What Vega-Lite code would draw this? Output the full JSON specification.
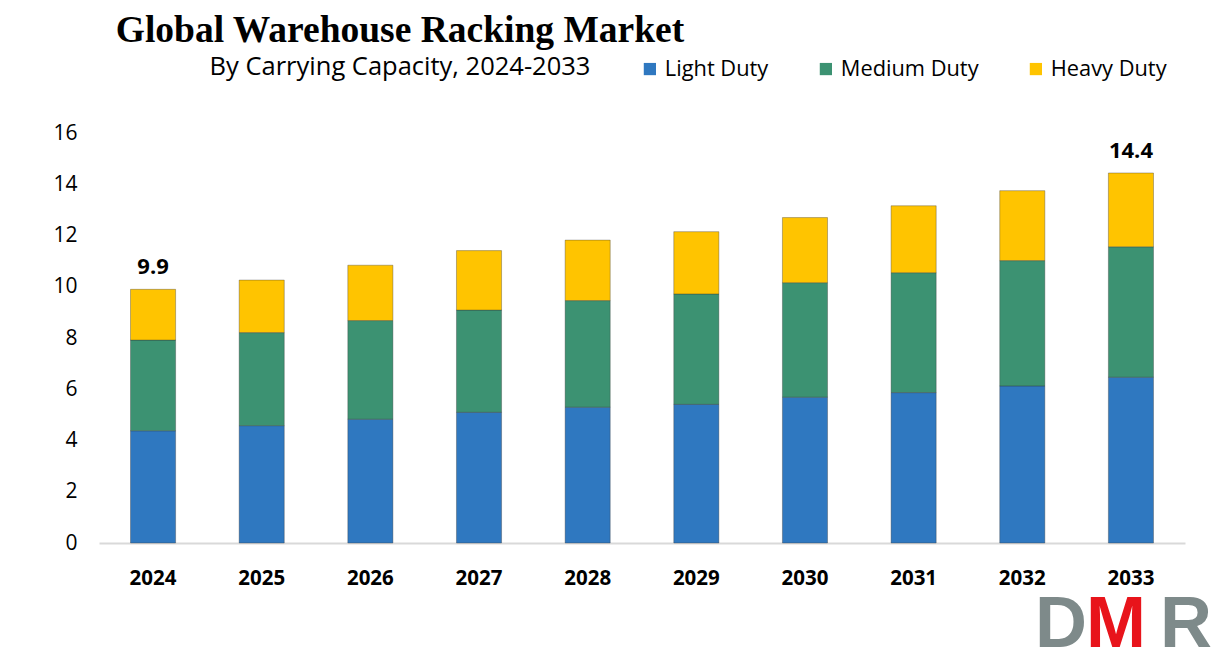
{
  "$schema": "https://vega.github.io/schema/vega-lite/v6.json",
  "autosize": {"type": "none"},
  "padding": {"left": 99, "top": 133, "right": 31, "bottom": 120},
  "width": 1086,
  "height": 410,
  "background": "white",
  "title": {
    "text": "Global Warehouse Racking Market",
    "subtitle": "By Carrying Capacity, 2024-2033",
    "anchor": "middle",
    "frame": "group",
    "dx": -242,
    "offset": -22,
    "font": "Liberation Serif",
    "fontSize": 37.5,
    "fontWeight": "bold",
    "color": "black",
    "subtitleFont": "Open Sans",
    "subtitleFontSize": 25.5,
    "subtitleColor": "black",
    "subtitlePadding": 5
  },
  "data": {
    "values": [
      {"year": "2024", "type": "Light Duty", "value": 4.38},
      {"year": "2024", "type": "Medium Duty", "value": 3.54},
      {"year": "2024", "type": "Heavy Duty", "value": 1.98},
      {"year": "2025", "type": "Light Duty", "value": 4.58},
      {"year": "2025", "type": "Medium Duty", "value": 3.63},
      {"year": "2025", "type": "Heavy Duty", "value": 2.05},
      {"year": "2026", "type": "Light Duty", "value": 4.83},
      {"year": "2026", "type": "Medium Duty", "value": 3.85},
      {"year": "2026", "type": "Heavy Duty", "value": 2.16},
      {"year": "2027", "type": "Light Duty", "value": 5.10},
      {"year": "2027", "type": "Medium Duty", "value": 3.99},
      {"year": "2027", "type": "Heavy Duty", "value": 2.32},
      {"year": "2028", "type": "Light Duty", "value": 5.30},
      {"year": "2028", "type": "Medium Duty", "value": 4.16},
      {"year": "2028", "type": "Heavy Duty", "value": 2.36},
      {"year": "2029", "type": "Light Duty", "value": 5.41},
      {"year": "2029", "type": "Medium Duty", "value": 4.31},
      {"year": "2029", "type": "Heavy Duty", "value": 2.43},
      {"year": "2030", "type": "Light Duty", "value": 5.69},
      {"year": "2030", "type": "Medium Duty", "value": 4.47},
      {"year": "2030", "type": "Heavy Duty", "value": 2.54},
      {"year": "2031", "type": "Light Duty", "value": 5.87},
      {"year": "2031", "type": "Medium Duty", "value": 4.68},
      {"year": "2031", "type": "Heavy Duty", "value": 2.61},
      {"year": "2032", "type": "Light Duty", "value": 6.13},
      {"year": "2032", "type": "Medium Duty", "value": 4.89},
      {"year": "2032", "type": "Heavy Duty", "value": 2.73},
      {"year": "2033", "type": "Light Duty", "value": 6.47},
      {"year": "2033", "type": "Medium Duty", "value": 5.09},
      {"year": "2033", "type": "Heavy Duty", "value": 2.88}
    ]
  },
  "encoding": {
    "x": {
      "field": "year",
      "type": "ordinal",
      "title": null,
      "scale": {"paddingInner": 0.585, "paddingOuter": 0.29},
      "axis": {
        "labelAngle": 0,
        "labelFont": "Open Sans",
        "labelFontSize": 20.5,
        "labelFontWeight": "bold",
        "labelColor": "black",
        "labelPadding": 25,
        "ticks": false,
        "tickSize": 0,
        "domainColor": "#D9D9D9",
        "domainWidth": 2,
        "grid": false
      }
    }
  },
  "layer": [
    {
      "transform": [
        {"calculate": "indexof(['Light Duty','Medium Duty','Heavy Duty'], datum.type)", "as": "stackRank"}
      ],
      "mark": {"type": "bar", "stroke": "#333333", "strokeWidth": 1, "strokeOpacity": 0.35},
      "encoding": {
        "y": {
          "field": "value",
          "type": "quantitative",
          "stack": "zero",
          "title": null,
          "scale": {"domain": [0, 16]},
          "axis": {
            "values": [0, 2, 4, 6, 8, 10, 12, 14, 16],
            "labelFont": "Open Sans",
            "labelFontSize": 21,
            "labelColor": "black",
            "labelPadding": 22,
            "ticks": false,
            "tickSize": 0,
            "domain": false,
            "grid": false
          }
        },
        "color": {
          "field": "type",
          "type": "nominal",
          "sort": ["Light Duty", "Medium Duty", "Heavy Duty"],
          "scale": {
            "domain": ["Light Duty", "Medium Duty", "Heavy Duty"],
            "range": ["#2F78C0", "#3C9272", "#FFC400"]
          },
          "legend": {
            "title": null,
            "orient": "none",
            "direction": "horizontal",
            "legendX": 540,
            "legendY": -75,
            "symbolType": "square",
            "symbolSize": 150,
            "symbolStrokeWidth": 0,
            "labelFont": "Open Sans",
            "labelFontSize": 21.8,
            "labelColor": "black",
            "labelOffset": 4,
            "columnPadding": 46
          }
        },
        "order": {"field": "stackRank", "type": "quantitative", "sort": "ascending"}
      }
    },
    {
      "transform": [
        {"filter": "datum.year == '2024' || datum.year == '2033'"},
        {"aggregate": [{"op": "sum", "field": "value", "as": "total"}], "groupby": ["year"]}
      ],
      "mark": {
        "type": "text",
        "font": "Open Sans",
        "fontSize": 22,
        "fontWeight": "bold",
        "color": "black",
        "baseline": "bottom",
        "dy": -10
      },
      "encoding": {
        "y": {"field": "total", "type": "quantitative"},
        "text": {"field": "total", "type": "quantitative", "format": ".1f"}
      }
    },
    {
      "data": {"values": [{"logo": "D"}]},
      "mark": {"type": "text", "text": "D", "font": "Liberation Sans", "fontSize": 72, "fontWeight": "bold", "color": "#7E8A8A", "baseline": "bottom", "align": "center", "dx": -70},
      "encoding": {"x": {"datum": "2033"}, "y": {"datum": -4.66}}
    },
    {
      "data": {"values": [{"logo": "M"}]},
      "mark": {"type": "text", "text": "M", "font": "Liberation Sans", "fontSize": 72, "fontWeight": "bold", "color": "#E8141B", "baseline": "bottom", "align": "center", "dx": -15},
      "encoding": {"x": {"datum": "2033"}, "y": {"datum": -4.66}}
    },
    {
      "data": {"values": [{"logo": "R"}]},
      "mark": {"type": "text", "text": "R", "font": "Liberation Sans", "fontSize": 72, "fontWeight": "bold", "color": "#7E8A8A", "baseline": "bottom", "align": "center", "dx": 55},
      "encoding": {"x": {"datum": "2033"}, "y": {"datum": -4.66}}
    }
  ],
  "config": {"view": {"stroke": null}}
}
